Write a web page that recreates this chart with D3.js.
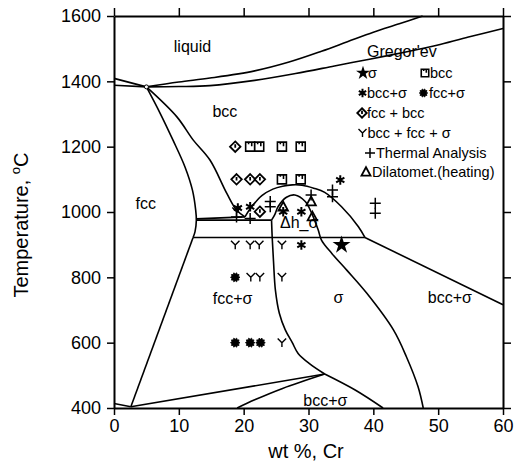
<!DOCTYPE html>
<html>
<head>
<meta charset="utf-8">
<script src="https://cdn.jsdelivr.net/npm/d3@7"></script>
<style>
  html, body { margin: 0; padding: 0; background: #fff; }
  svg { display: block; font-family: "Liberation Sans", Arial, Helvetica, sans-serif; }
</style>
</head>
<body>
<svg id="chart" width="515" height="473"></svg>
<script>
// ---- Axis ticks ----
const xTicks = [0, 10, 20, 30, 40, 50, 60];
const yTicks = [400, 600, 800, 1000, 1200, 1400, 1600];

// ---- Phase boundaries (wt % Cr, temperature °C) ----
const liquidusLeft = [[0, 1409], [5, 1383]];
const solidusLeft = [[0, 1388], [5, 1383]];
const liquidus = [[5, 1383], [10, 1398], [14.8, 1410], [21.7, 1432], [27, 1459], [32, 1492], [36, 1521], [40, 1550], [44, 1576], [47.6, 1600]];
const solidus = [[5, 1383], [10, 1384], [14.8, 1387], [21.7, 1403], [28, 1424], [34, 1447], [39.2, 1467], [45, 1490], [50.3, 1513], [55, 1537], [60, 1562]];
const fccBoundary = [[5, 1383], [7.1, 1303], [9.1, 1220], [10.95, 1138], [12.1, 1067], [12.6, 1006], [12.7, 975], [12.5, 940], [12.2, 922]];
const fccSigmaLeft = [[12.2, 922], [2.6, 404]];
const bccBoundary = [[5, 1383], [9.67, 1292], [12.23, 1220], [14.8, 1159], [17.4, 1057], [18.9, 1006], [20.2, 985]];
const outerDome = [[20.2, 985], [21.2, 1015], [22.8, 1050], [24.5, 1070], [26, 1079], [27.5, 1083], [29, 1082], [30.8, 1073], [32.5, 1060], [35.1, 1016], [37.7, 955], [38.7, 922]];
const bccSigmaTop = [[38.7, 922], [60, 716]];
const upperIsotherm = [[12.7, 975], [24.3, 975]];
const upperIsotherm2 = [[12.7, 979], [20.2, 985]];
const lowerIsotherm = [[12.2, 922], [38.7, 922]];
const sigmaRight = [[24.3, 975], [24.8, 992], [25.3, 1016], [26.6, 1045], [27.9, 1052], [29.5, 1032], [30.5, 996], [31.5, 945], [32.0, 914], [33.6, 873], [35.9, 822], [39, 751], [43.1, 639], [45.1, 557], [46.9, 465], [47.7, 400]];
const sigmaLeft = [[24.3, 975], [24.4, 922], [24.6, 850], [24.9, 760], [25.5, 690], [26.4, 640], [27.5, 600], [28.4, 567], [30.2, 535], [32.5, 504]];
const lowLeft = [[0, 414], [2.6, 404]];
const lowUpper = [[2.6, 404], [32.5, 504]];
const lowLower = [[19, 400], [21.7, 425], [26, 460], [32.5, 504]];
const lowRight = [[32.5, 504], [37.2, 455], [41.5, 400]];

const smoothLines = [liquidus, solidus, fccBoundary, bccBoundary, outerDome, sigmaRight, sigmaLeft, lowLower, lowRight];
const straightLines = [liquidusLeft, solidusLeft, fccSigmaLeft, bccSigmaTop, upperIsotherm, upperIsotherm2, lowerIsotherm, lowLeft, lowUpper];

// ---- Experimental points ----
const sigmaPts = [[35.1, 899]];
const bccPts = [[21, 1200], [22.4, 1200], [25.9, 1200], [28.8, 1200], [25.9, 1100], [28.8, 1100]];
const bccSigmaPts = [[19.1, 1012], [21, 1016], [26.1, 1001], [28.9, 1001], [28.9, 899], [34.9, 1098]];
const fccSigmaPts = [[18.7, 800], [18.7, 600], [21, 600], [22.6, 600]];
const fccBccPts = [[18.7, 1200], [18.9, 1100], [21, 1100], [22.5, 1100], [22.5, 1001]];
const threePhasePts = [[18.9, 1001], [18.7, 899], [21, 899], [22.4, 899], [25.9, 899], [21.1, 800], [22.5, 800], [25.9, 800], [25.9, 600]];
const thermalPts = [[18.9, 985], [21, 980], [24.1, 1032], [24.1, 1016], [30.4, 1052], [33.7, 1067], [33.7, 1047], [40.3, 1027], [40.3, 996]];
const dilatoPts = [[26.1, 1016], [30.4, 1032], [30.6, 986]];

// ---- Region labels (data coordinates) ----
const regionLabels = [
  { text: "liquid", x: 12.1, t: 1490 },
  { text: "bcc", x: 17.1, t: 1290 },
  { text: "fcc", x: 4.9, t: 1010 },
  { text: "fcc+σ", x: 18.3, t: 719 },
  { text: "σ", x: 34.6, t: 722 },
  { text: "bcc+σ", x: 51.8, t: 722 },
  { text: "bcc+σ", x: 32.6, t: 405 }
];

const svg = d3.select("#chart");
const x = d3.scaleLinear().domain([0, 60]).range([114, 503]);
const y = d3.scaleLinear().domain([400, 1600]).range([408, 16]);

// Axes on all four sides, ticks pointing outward
function styleAxis(g) {
  g.selectAll(".domain").attr("stroke", "#000").attr("stroke-width", 2);
  g.selectAll(".tick line").attr("stroke", "#000").attr("stroke-width", 1.5);
  g.selectAll(".tick text").attr("fill", "#000").attr("font-size", 18)
    .attr("font-family", "'Liberation Sans', Arial, sans-serif");
}
svg.append("g").attr("transform", "translate(0,408)")
  .call(d3.axisBottom(x).tickValues(xTicks).tickFormat(d3.format("d")).tickSize(7).tickPadding(4).tickSizeOuter(0))
  .call(styleAxis);
svg.append("g").attr("transform", "translate(114,0)")
  .call(d3.axisLeft(y).tickValues(yTicks).tickFormat(d3.format("d")).tickSize(7).tickPadding(6).tickSizeOuter(0))
  .call(styleAxis);
svg.append("g").attr("transform", "translate(0,16)")
  .call(d3.axisTop(x).tickValues(xTicks).tickSize(8).tickFormat("").tickSizeOuter(0))
  .call(styleAxis);
svg.append("g").attr("transform", "translate(503,0)")
  .call(d3.axisRight(y).tickValues(yTicks).tickSize(8).tickFormat("").tickSizeOuter(0))
  .call(styleAxis);

// Axis titles
svg.append("text")
  .attr("transform", "translate(28,225) rotate(-90)")
  .attr("text-anchor", "middle").attr("font-size", 20).attr("fill", "#000")
  .call(t => {
    t.append("tspan").text("Temperature, ");
    t.append("tspan").attr("font-size", 13).attr("dy", -8).text("o");
    t.append("tspan").attr("dy", 8).text("C");
  });
svg.append("text")
  .attr("x", 306).attr("y", 458)
  .attr("text-anchor", "middle").attr("font-size", 20).attr("fill", "#000")
  .text("wt %, Cr");

// Phase boundaries
const plot = svg.append("g");
const smooth = d3.line().x(d => x(d[0])).y(d => y(d[1])).curve(d3.curveCatmullRom.alpha(0.5));
const straight = d3.line().x(d => x(d[0])).y(d => y(d[1]));
plot.selectAll("path.smooth").data(smoothLines).join("path")
  .attr("class", "smooth").attr("d", smooth)
  .attr("fill", "none").attr("stroke", "#000").attr("stroke-width", 1.6);
plot.selectAll("path.straight").data(straightLines).join("path")
  .attr("class", "straight").attr("d", straight)
  .attr("fill", "none").attr("stroke", "#000").attr("stroke-width", 1.6);

// Congruent point where the liquidus meets the fcc/bcc loop
plot.append("circle")
  .attr("cx", x(liquidusLeft[1][0])).attr("cy", y(liquidusLeft[1][1]))
  .attr("r", 2).attr("fill", "#fff").attr("stroke", "#000").attr("stroke-width", 1);

// Region labels
plot.selectAll("text.region").data(regionLabels).join("text")
  .attr("class", "region")
  .attr("x", d => x(d.x)).attr("y", d => y(d.t))
  .attr("text-anchor", "middle").attr("font-size", 16).attr("fill", "#000")
  .text(d => d.text);

// ---- Marker symbols ----
const symbolTypes = {
  sigma: { draw(c, s) { d3.symbolStar.draw(c, s); } },
  bcc: {
    draw(c, s) {
      const r = Math.sqrt(s) / 2;
      c.moveTo(-r, -r); c.lineTo(r, -r); c.lineTo(r, r); c.lineTo(-r, r); c.closePath();
      c.moveTo(r * 0.35, -r); c.lineTo(r * 0.35, -r * 0.1);
      c.moveTo(-r * 0.35, -r); c.lineTo(-r * 0.35, -r * 0.55);
    }
  },
  bccSigma: {
    draw(c, s) {
      const r = Math.sqrt(s) / 2;
      for (let i = 0; i < 3; i++) {
        const a = Math.PI / 2 + i * Math.PI / 3;
        c.moveTo(r * Math.cos(a), r * Math.sin(a));
        c.lineTo(-r * Math.cos(a), -r * Math.sin(a));
      }
    }
  },
  fccSigma: {
    draw(c, s) {
      const r = Math.sqrt(s) / 2;
      const n = 10;
      for (let i = 0; i < 2 * n; i++) {
        const a = i * Math.PI / n;
        const rr = i % 2 ? r * 0.72 : r;
        if (i === 0) c.moveTo(rr * Math.cos(a), rr * Math.sin(a));
        else c.lineTo(rr * Math.cos(a), rr * Math.sin(a));
      }
      c.closePath();
    }
  },
  fccBcc: {
    draw(c, s) {
      const r = Math.sqrt(s) / 2;
      c.moveTo(0, -r); c.lineTo(r, 0); c.lineTo(0, r); c.lineTo(-r, 0); c.closePath();
      c.moveTo(0, -r * 0.45); c.lineTo(0, r * 0.2);
    }
  },
  three: {
    draw(c, s) {
      const r = Math.sqrt(s) / 2;
      c.moveTo(-r, -r); c.lineTo(0, 0); c.lineTo(r, -r);
      c.moveTo(0, 0); c.lineTo(0, r);
    }
  },
  thermal: {
    draw(c, s) {
      const r = Math.sqrt(s) / 2;
      c.moveTo(-r, 0); c.lineTo(r, 0);
      c.moveTo(0, -r); c.lineTo(0, r);
    }
  },
  dilato: {
    draw(c, s) {
      const r = Math.sqrt(s) / 2;
      c.moveTo(0, -r); c.lineTo(r * 0.95, r * 0.75); c.lineTo(-r * 0.95, r * 0.75); c.closePath();
    }
  }
};
const symbolStyle = {
  sigma: { size: 100, legendSize: 60, fill: "#000", stroke: "none", sw: 0 },
  bcc: { size: 81, legendSize: 56, fill: "#fff", stroke: "#000", sw: 1.6 },
  bccSigma: { size: 90, legendSize: 72, fill: "none", stroke: "#000", sw: 2 },
  fccSigma: { size: 90, legendSize: 72, fill: "#000", stroke: "#000", sw: 0.8 },
  fccBcc: { size: 110, legendSize: 90, fill: "#fff", stroke: "#000", sw: 1.8 },
  three: { size: 72, legendSize: 64, fill: "none", stroke: "#000", sw: 1.4 },
  thermal: { size: 121, legendSize: 100, fill: "none", stroke: "#000", sw: 1.5 },
  dilato: { size: 100, legendSize: 90, fill: "none", stroke: "#000", sw: 1.8 }
};

function drawPoints(type, pts) {
  const st = symbolStyle[type];
  const sym = d3.symbol().type(symbolTypes[type]).size(st.size);
  plot.append("g").selectAll("path").data(pts).join("path")
    .attr("transform", d => `translate(${x(d[0])},${y(d[1])})`)
    .attr("d", sym)
    .attr("fill", st.fill).attr("stroke", st.stroke).attr("stroke-width", st.sw)
    .attr("stroke-linejoin", "miter");
}
drawPoints("fccBcc", fccBccPts);
drawPoints("bcc", bccPts);
drawPoints("three", threePhasePts);
drawPoints("fccSigma", fccSigmaPts);
drawPoints("bccSigma", bccSigmaPts);
drawPoints("thermal", thermalPts);
drawPoints("dilato", dilatoPts);
drawPoints("sigma", sigmaPts);

// Annotation inside the inner dome
plot.append("text").attr("x", x(25.6)).attr("y", y(950))
  .attr("font-size", 16).attr("fill", "#000").text("Δh_σ");

// ---- Legend ----
const legend = svg.append("g").attr("font-size", 14.5).attr("fill", "#000");
legend.append("text").attr("x", 367).attr("y", 57).attr("font-size", 16).text("Gregor'ev");
const legendItems = [
  { type: "sigma", label: "σ", sx: 363, tx: 368, ty: 78 },
  { type: "bcc", label: "bcc", sx: 425, tx: 430, ty: 78 },
  { type: "bccSigma", label: "bcc+σ", sx: 362.5, tx: 367, ty: 98 },
  { type: "fccSigma", label: "fcc+σ", sx: 423.5, tx: 429, ty: 98 },
  { type: "fccBcc", label: "fcc + bcc", sx: 362, tx: 367, ty: 118 },
  { type: "three", label: "bcc + fcc + σ", sx: 362.5, tx: 367.5, ty: 138 },
  { type: "thermal", label: "Thermal Analysis", sx: 370, tx: 376, ty: 158 },
  { type: "dilato", label: "Dilatomet.(heating)", sx: 366, tx: 372, ty: 177 }
];
legendItems.forEach(it => {
  const st = symbolStyle[it.type];
  legend.append("path")
    .attr("transform", `translate(${it.sx},${it.ty - 5})`)
    .attr("d", d3.symbol().type(symbolTypes[it.type]).size(st.legendSize)())
    .attr("fill", st.fill).attr("stroke", st.stroke).attr("stroke-width", st.sw);
  legend.append("text").attr("x", it.tx).attr("y", it.ty).text(it.label);
});
</script>
</body>
</html>
